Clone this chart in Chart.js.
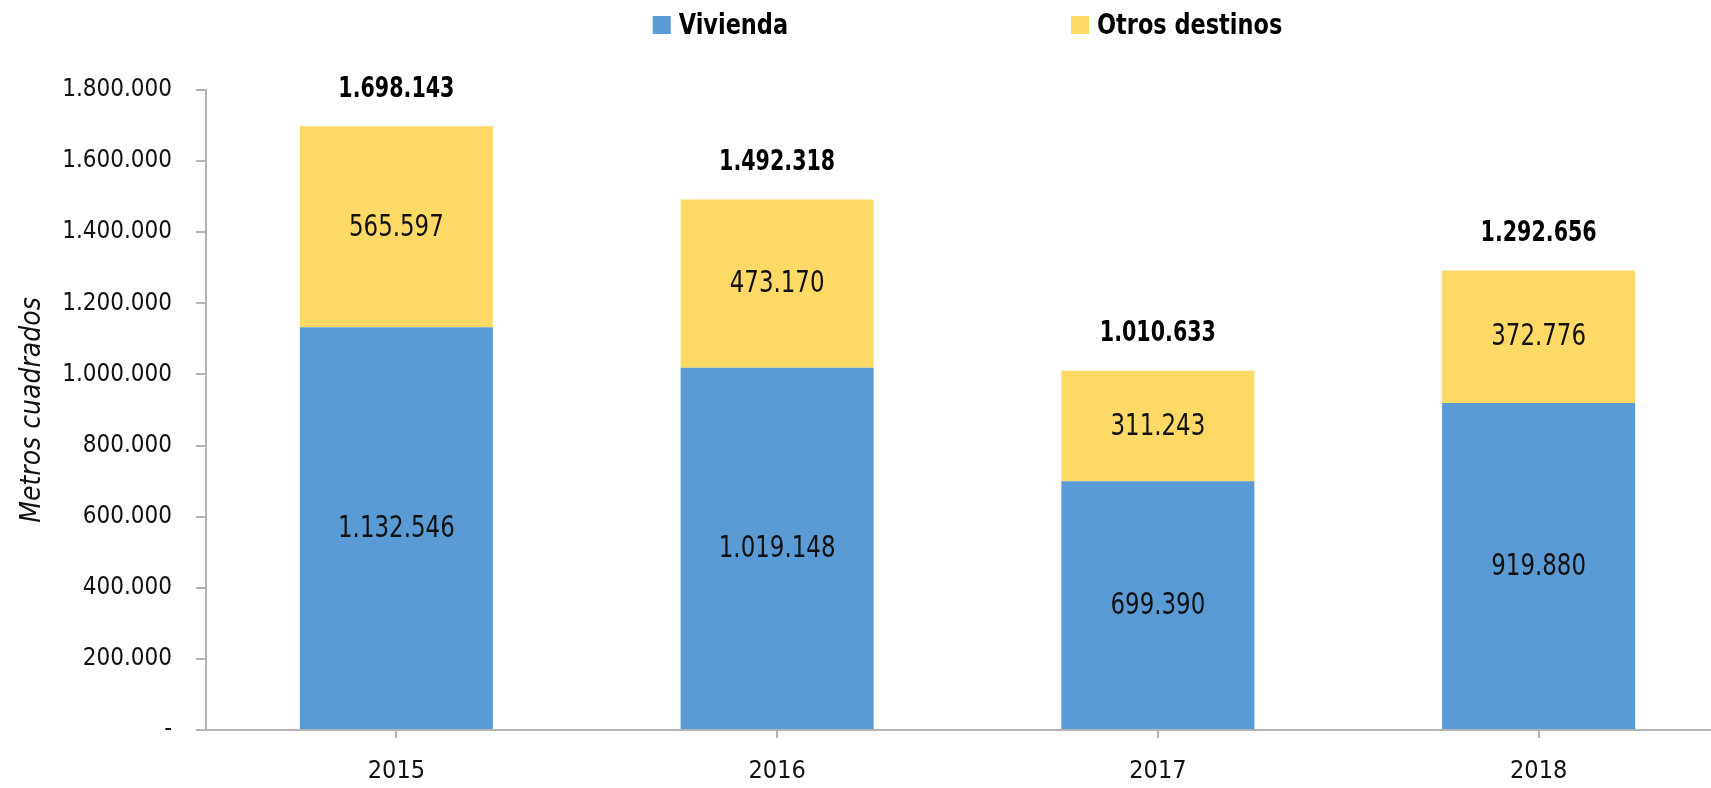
<!DOCTYPE html>
<html>
<head>
<meta charset="utf-8">
<script src="https://cdn.jsdelivr.net/npm/chart.js@4.4.1/dist/chart.umd.min.js"></script>
<style>
  html, body { margin: 0; padding: 0; background: #ffffff; overflow: hidden; }
  #wrap { position: relative; width: 1735px; height: 788px; }
</style>
</head>
<body>
<div id="wrap"><canvas id="c" width="1735" height="788"></canvas></div>
<script>
const categories = ['2015', '2016', '2017', '2018'];
const vivienda = [1132546, 1019148, 699390, 919880];
const otrosDestinos = [565597, 473170, 311243, 372776];
const seriesNames = ['Vivienda', 'Otros destinos'];
const yTicks = [0, 200000, 400000, 600000, 800000, 1000000, 1200000, 1400000, 1600000, 1800000];
const yTitle = 'Metros cuadrados';

const FONT = "'DejaVu Sans Condensed', 'Liberation Sans Narrow', sans-serif";
const BLUE = '#5B9BD5';
const YELLOW = '#FFD966';
const AXIS = '#B4B4B4';

function fmt(v) {
  if (v === 0) return '-';
  return String(Math.round(v)).replace(/\B(?=(\d{3})+(?!\d))/g, '.');
}

function textScaled(ctx, text, x, y, sx) {
  ctx.save();
  ctx.translate(x, y);
  ctx.scale(sx, 1);
  ctx.fillText(text, 0, 0);
  ctx.restore();
}

const labelsPlugin = {
  id: 'labelsPlugin',
  afterDatasetsDraw(chart) {
    const ctx = chart.ctx;
    ctx.save();
    ctx.textAlign = 'center';
    ctx.textBaseline = 'middle';
    ctx.fillStyle = '#111111';
    ctx.font = "30px " + FONT;
    chart.data.datasets.forEach((ds, di) => {
      const meta = chart.getDatasetMeta(di);
      meta.data.forEach((bar, i) => {
        const y = (bar.y + bar.base) / 2;
        textScaled(ctx, fmt(ds.data[i]), bar.x, y + 1, 0.85);
      });
    });
    const lastMeta = chart.getDatasetMeta(chart.data.datasets.length - 1);
    ctx.font = "bold 29px " + FONT;
    ctx.fillStyle = '#000000';
    lastMeta.data.forEach((bar, i) => {
      let total = 0;
      chart.data.datasets.forEach(ds => { total += ds.data[i]; });
      textScaled(ctx, fmt(total), bar.x, bar.y - 37, 0.79);
    });
    ctx.restore();
  },
  afterDraw(chart) {
    const ctx = chart.ctx;
    ctx.save();
    ctx.font = "bold 29px " + FONT;
    ctx.textBaseline = 'middle';
    ctx.textAlign = 'left';
    const sx = 0.86;
    const sq = 18, gapText = 8, gapItems = 283;
    const items = chart.data.datasets.map(ds => ({ label: ds.label, color: ds.backgroundColor, w: ctx.measureText(ds.label).width * sx }));
    let total = 0;
    items.forEach((it, k) => { total += sq + gapText + it.w + (k > 0 ? gapItems : 0); });
    const ca = chart.chartArea;
    let x = (ca.left + ca.right) / 2 - total / 2;
    const cy = 25;
    items.forEach(it => {
      ctx.fillStyle = it.color;
      ctx.fillRect(x, cy - sq / 2, sq, sq);
      ctx.fillStyle = '#000000';
      textScaled(ctx, it.label, x + sq + gapText, cy + 1, sx);
      x += sq + gapText + it.w + gapItems;
    });
    ctx.restore();
  }
};

new Chart(document.getElementById('c'), {
  type: 'bar',
  data: {
    labels: categories,
    datasets: [
      { label: seriesNames[0], data: vivienda, backgroundColor: BLUE, borderWidth: 0 },
      { label: seriesNames[1], data: otrosDestinos, backgroundColor: YELLOW, borderWidth: 0 }
    ]
  },
  options: {
    responsive: false,
    animation: false,
    devicePixelRatio: 1,
    layout: { padding: { top: 90, right: 6, bottom: 0, left: 0 } },
    datasets: { bar: { barPercentage: 0.507, categoryPercentage: 1.0 } },
    plugins: {
      legend: { display: false },
      tooltip: { enabled: false },
      title: { display: false }
    },
    scales: {
      x: {
        stacked: true,
        grid: { display: true, drawOnChartArea: false, drawTicks: true, tickLength: 8, color: AXIS, lineWidth: 2, offset: false },
        border: { display: true, color: AXIS, width: 2 },
        ticks: { color: '#111111', font: { family: FONT, size: 25 }, padding: 18, maxRotation: 0 },
        afterFit(scale) { scale.height = 58; }
      },
      y: {
        stacked: true,
        min: 0,
        max: 1800000,
        afterBuildTicks(scale) { scale.ticks = yTicks.map(v => ({ value: v })); },
        grid: { display: true, drawOnChartArea: false, drawTicks: true, tickLength: 10, color: AXIS, lineWidth: 2 },
        border: { display: true, color: AXIS, width: 2 },
        ticks: {
          color: '#111111',
          font: { family: FONT, size: 24 },
          padding: 24,
          callback: (v) => fmt(v)
        },
        title: {
          display: true,
          text: yTitle,
          color: '#111111',
          font: { family: FONT, size: 28, style: 'italic' },
          padding: { top: 16, bottom: 0 }
        },
        afterFit(scale) { scale.width = 206; }
      }
    }
  },
  plugins: [labelsPlugin]
});
</script>
</body>
</html>
